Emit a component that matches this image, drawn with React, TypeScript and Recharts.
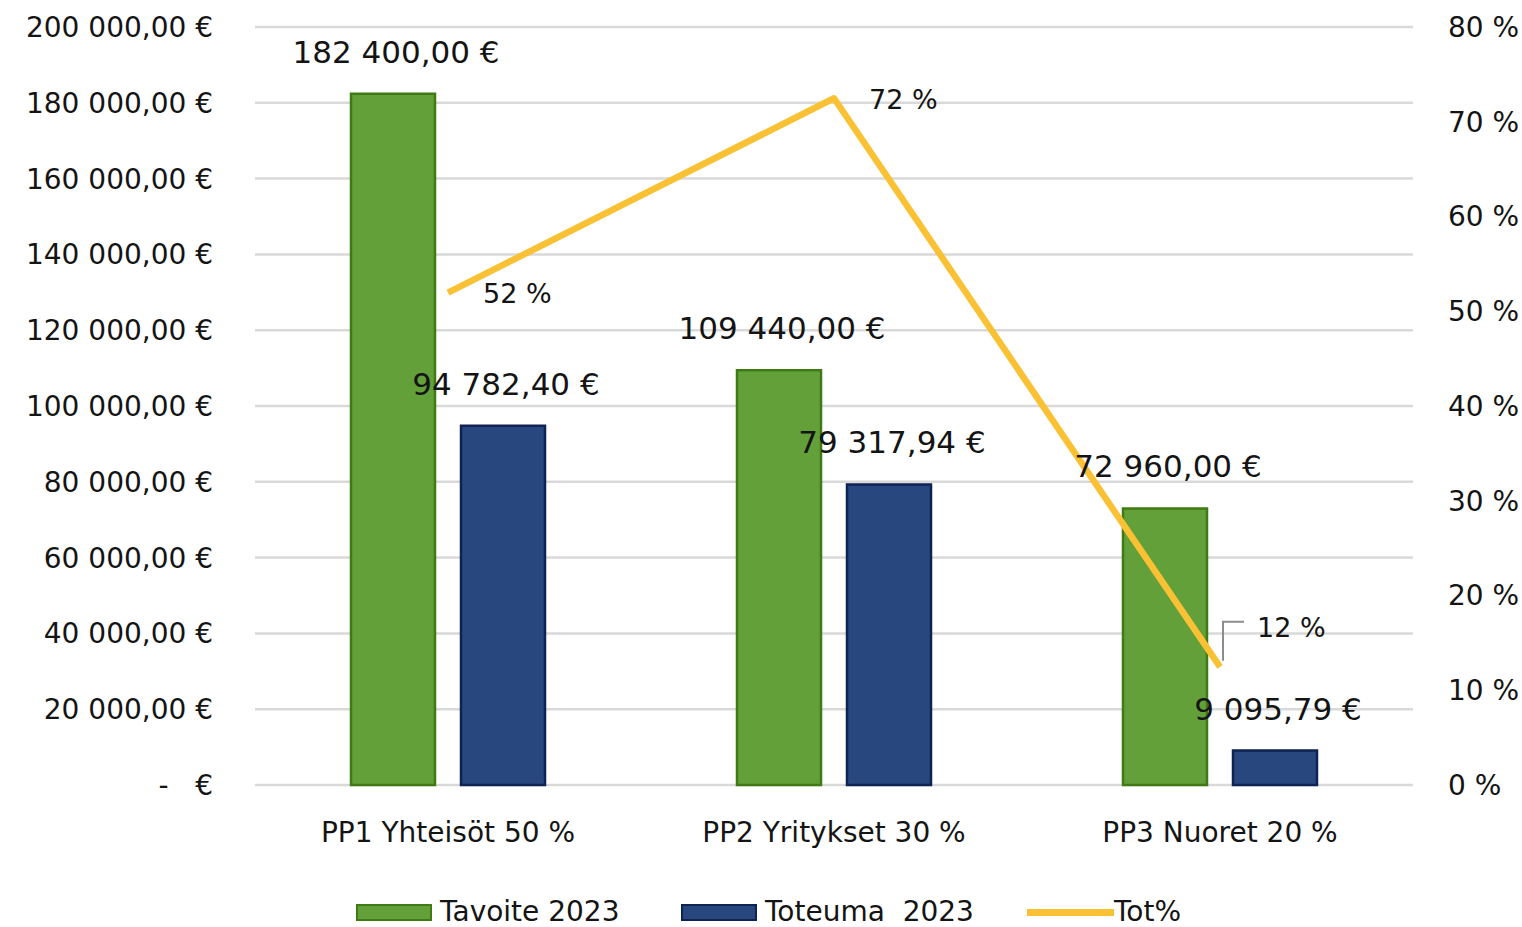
import React from "react";
import {
  ComposedChart,
  Bar,
  Line,
  XAxis,
  YAxis,
  CartesianGrid,
  Legend,
  LabelList,
} from "recharts";

const categories = ["PP1 Yhteisöt 50 %", "PP2 Yritykset 30 %", "PP3 Nuoret 20 %"];
const tavoite2023 = [182400, 109440, 72960];
const toteuma2023 = [94782.4, 79317.94, 9095.79];
const totPct = [51.96, 72.48, 12.47];

const leftTicks = [0, 20000, 40000, 60000, 80000, 100000, 120000, 140000, 160000, 180000, 200000];
const rightTicks = [0, 10, 20, 30, 40, 50, 60, 70, 80];

const seriesNames = { tavoite: "Tavoite 2023", toteuma: "Toteuma  2023", tot: "Tot%" };

const data = categories.map((c, i) => ({
  category: c,
  tavoite: tavoite2023[i],
  toteuma: toteuma2023[i],
  tot: totPct[i],
}));

const FONT = "'DejaVu Sans', sans-serif";
const TEXT = "#141414";
const GREEN = "#63A03A";
const GREEN_STROKE = "#3F7A12";
const NAVY = "#28477F";
const NAVY_STROKE = "#0E2254";
const GOLD = "#F9C133";

const fmtEur = (v: number) => {
  if (v === 0) return "-\u00A0\u00A0\u00A0€";
  const [i, d] = v.toFixed(2).split(".");
  return i.replace(/\B(?=(\d{3})+(?!\d))/g, " ") + "," + d + " €";
};

const BarLabel = (props: any) => {
  const { x, y, width, value } = props;
  return (
    <text
      x={Number(x) + Number(width) / 2 + 3}
      y={Number(y) - 42}
      textAnchor="middle"
      dominantBaseline="central"
      fontFamily={FONT}
      fontSize={31}
      fill={TEXT}
    >
      {fmtEur(Number(value))}
    </text>
  );
};

const LineLabel = (props: any) => {
  const { x, y, value, index } = props;
  const txt = Math.round(Number(value)) + " %";
  if (index === 2) {
    return (
      <g>
        <polyline
          points={`${x + 3},${y - 6} ${x + 3},${y - 45} ${x + 24},${y - 45}`}
          fill="none"
          stroke="#8C8C8C"
          strokeWidth={2}
        />
        <text x={x + 37} y={y - 39} dominantBaseline="central" fontFamily={FONT} fontSize={27} fill={TEXT}>
          {txt}
        </text>
      </g>
    );
  }
  return (
    <text x={x + 35} y={y + 1} dominantBaseline="central" fontFamily={FONT} fontSize={27} fill={TEXT}>
      {txt}
    </text>
  );
};

const LegendContent = () => {
  const items = [
    { left: 356, kind: "bar", fill: GREEN, stroke: GREEN_STROKE, label: seriesNames.tavoite },
    { left: 681, kind: "bar", fill: NAVY, stroke: NAVY_STROKE, label: seriesNames.toteuma },
    { left: 1027, kind: "line", fill: GOLD, stroke: GOLD, label: seriesNames.tot },
  ];
  return (
    <div style={{ position: "relative", width: 1522, height: 30, fontFamily: FONT, fontSize: 28, color: TEXT }}>
      {items.map((it) => (
        <div
          key={it.label}
          style={{ position: "absolute", left: it.left, top: 0, height: 30, display: "flex", alignItems: "center", whiteSpace: "pre" }}
        >
          {it.kind === "bar" ? (
            <div style={{ width: 72, height: 13, background: it.fill, border: `2.5px solid ${it.stroke}`, marginRight: 8 }} />
          ) : (
            <div style={{ width: 87, height: 7, background: it.fill, marginRight: 0 }} />
          )}
          <span style={{ lineHeight: "30px" }}>{it.label}</span>
        </div>
      ))}
    </div>
  );
};

export default function App() {
  return (
    <div style={{ position: "absolute", left: 0, top: 0, width: 1522, height: 927, background: "#fff" }}>
      <ComposedChart
        width={1522}
        height={927}
        data={data}
        margin={{ top: 27, right: 0, bottom: 0, left: 0 }}
        barCategoryGap={96}
        barGap={26}
      >
        <CartesianGrid yAxisId="left" vertical={false} stroke="#D9D9D9" strokeWidth={2.5} />
        <XAxis
          dataKey="category"
          axisLine={false}
          tickLine={false}
          tickSize={0}
          tickMargin={37}
          height={112}
          interval={0}
          tick={{ fontFamily: FONT, fontSize: 28, fill: TEXT }}
        />
        <YAxis
          yAxisId="left"
          orientation="left"
          width={255}
          domain={[0, 200000]}
          ticks={leftTicks}
          axisLine={false}
          tickLine={false}
          tickSize={0}
          tickMargin={42}
          interval={0}
          tickFormatter={fmtEur}
          tick={{ fontFamily: FONT, fontSize: 28, fill: TEXT }}
        />
        <YAxis
          yAxisId="right"
          orientation="right"
          width={109}
          domain={[0, 80]}
          ticks={rightTicks}
          axisLine={false}
          tickLine={false}
          tickSize={0}
          tickMargin={35}
          interval={0}
          tickFormatter={(v: number) => `${v} %`}
          tick={{ fontFamily: FONT, fontSize: 28, fill: TEXT }}
        />
        <Bar
          yAxisId="left"
          dataKey="tavoite"
          name={seriesNames.tavoite}
          fill={GREEN}
          stroke={GREEN_STROKE}
          strokeWidth={2.5}
          isAnimationActive={false}
        >
          <LabelList dataKey="tavoite" content={BarLabel} />
        </Bar>
        <Bar
          yAxisId="left"
          dataKey="toteuma"
          name={seriesNames.toteuma}
          fill={NAVY}
          stroke={NAVY_STROKE}
          strokeWidth={2.5}
          isAnimationActive={false}
        >
          <LabelList dataKey="toteuma" content={BarLabel} />
        </Bar>
        <Line
          yAxisId="right"
          dataKey="tot"
          name={seriesNames.tot}
          stroke={GOLD}
          strokeWidth={6.5}
          dot={false}
          activeDot={false}
          strokeLinejoin="round"
          isAnimationActive={false}
        >
          <LabelList dataKey="tot" content={LineLabel} />
        </Line>
        <Legend verticalAlign="bottom" content={LegendContent} />
      </ComposedChart>
    </div>
  );
}
